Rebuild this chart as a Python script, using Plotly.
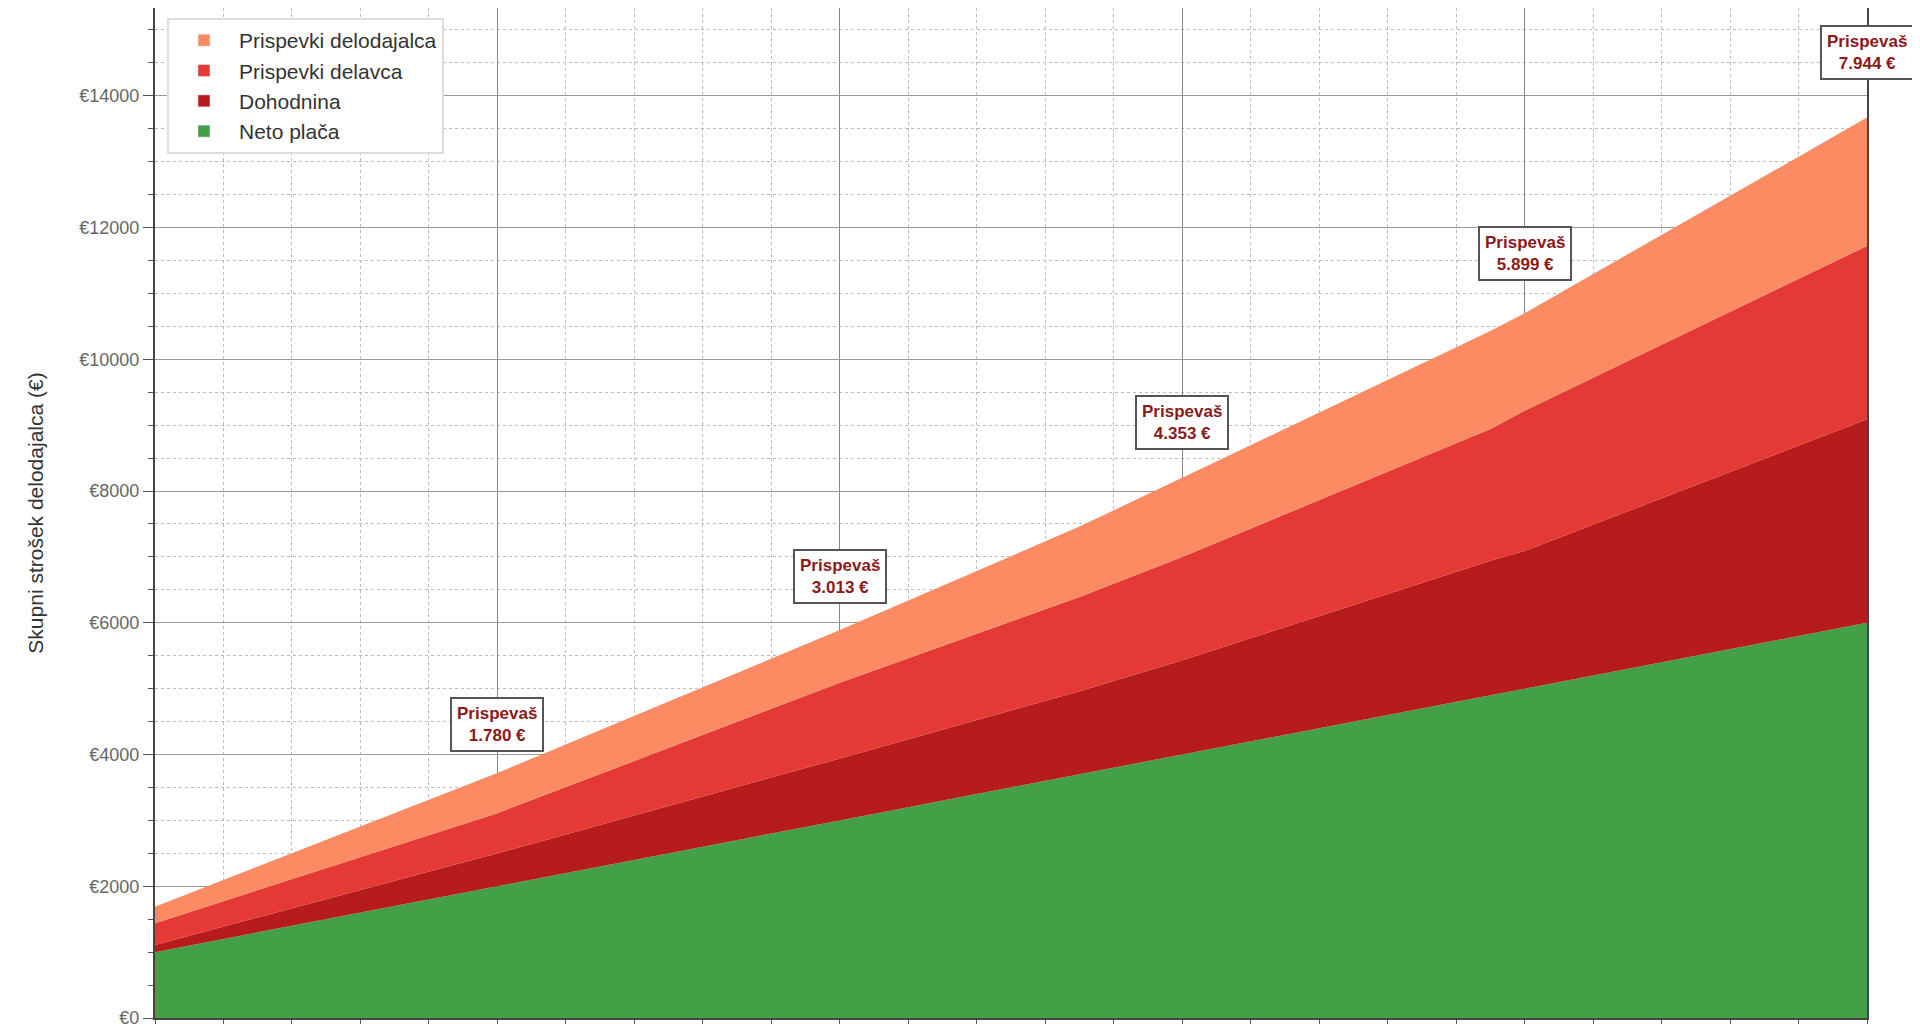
import plotly.graph_objects as go

neto = [1000, 2000, 3000, 3700, 4000, 4900, 5000, 6000]
dohodnina_top = [1110, 2500, 3940, 4960, 5430, 6940, 7090, 9090]
delavca_top = [1440, 3110, 5090, 6390, 7000, 8940, 9220, 11720]
delodajalca_top = [1690, 3720, 5890, 7460, 8200, 10430, 10700, 13670]

dohodnina = [t - n for t, n in zip(dohodnina_top, neto)]
delavca = [t - d for t, d in zip(delavca_top, dohodnina_top)]
delodajalca = [t - d for t, d in zip(delodajalca_top, delavca_top)]

ann_x = [2000, 3000, 4000, 5000, 6000]
ann_y = [4460, 6700, 9040, 11600, 14650]
ann_val = ["1.780 €", "3.013 €", "4.353 €", "5.899 €", "7.944 €"]

fig = go.Figure()
series = [
    ("Neto plača", neto, "#43a047"),
    ("Dohodnina", dohodnina, "#b71c1c"),
    ("Prispevki delavca", delavca, "#e53935"),
    ("Prispevki delodajalca", delodajalca, "#fc8a62"),
]
for name, vals, col in series:
    fig.add_trace(go.Scatter(x=neto, y=vals, name=name, stackgroup="one",
                             mode="none", fillcolor=col, line=dict(width=0),
                             showlegend=False))
for name, vals, col in series:
    fig.add_trace(go.Bar(x=[None], y=[None], name=name, marker=dict(color=col)))

for x, y, v in zip(ann_x, ann_y, ann_val):
    fig.add_annotation(x=x, y=y, text=f"<b>Prispevaš<br>{v}</b>", showarrow=False,
                       font=dict(color="#8b1a1a", size=17, family="Liberation Sans"),
                       bgcolor="white", bordercolor="#555", borderwidth=2, borderpad=5)

fig.update_layout(
    width=1920, height=1024, plot_bgcolor="white", paper_bgcolor="white",
    margin=dict(l=147, r=61, t=0, b=14),
    font=dict(family="Liberation Sans", color="#333"),
    legend=dict(x=0.007, y=0.99, xanchor="left", yanchor="top", traceorder="reversed",
                bgcolor="white", bordercolor="#ddd", borderwidth=2, itemwidth=60,
                font=dict(size=21, color="#333")),
    xaxis=dict(range=[1000, 6000], dtick=1000, showticklabels=False, ticks="outside",
               ticklen=10, tickcolor="#555", showgrid=True, gridcolor="#888", gridwidth=1,
               showline=True, linecolor="#444", linewidth=2, zeroline=False,
               minor=dict(dtick=200, showgrid=True, gridcolor="#bbb", griddash="dot",
                          ticks="outside", ticklen=6, tickcolor="#555")),
    yaxis=dict(range=[0, 15333], dtick=2000, tickprefix="€", tickformat="d",
               tickfont=dict(size=18, color="#666"), ticks="outside", ticklen=10,
               tickcolor="#555", showgrid=True, gridcolor="#999", gridwidth=1,
               showline=True, linecolor="#444", linewidth=2, mirror=True, zeroline=False,
               title=dict(text="Skupni strošek delodajalca (€)", standoff=30,
                          font=dict(size=21, color="#333")),
               minor=dict(dtick=500, showgrid=True, gridcolor="#bbb", griddash="dot",
                          ticks="outside", ticklen=5, tickcolor="#555")),
)
fig.write_html("out.html")
